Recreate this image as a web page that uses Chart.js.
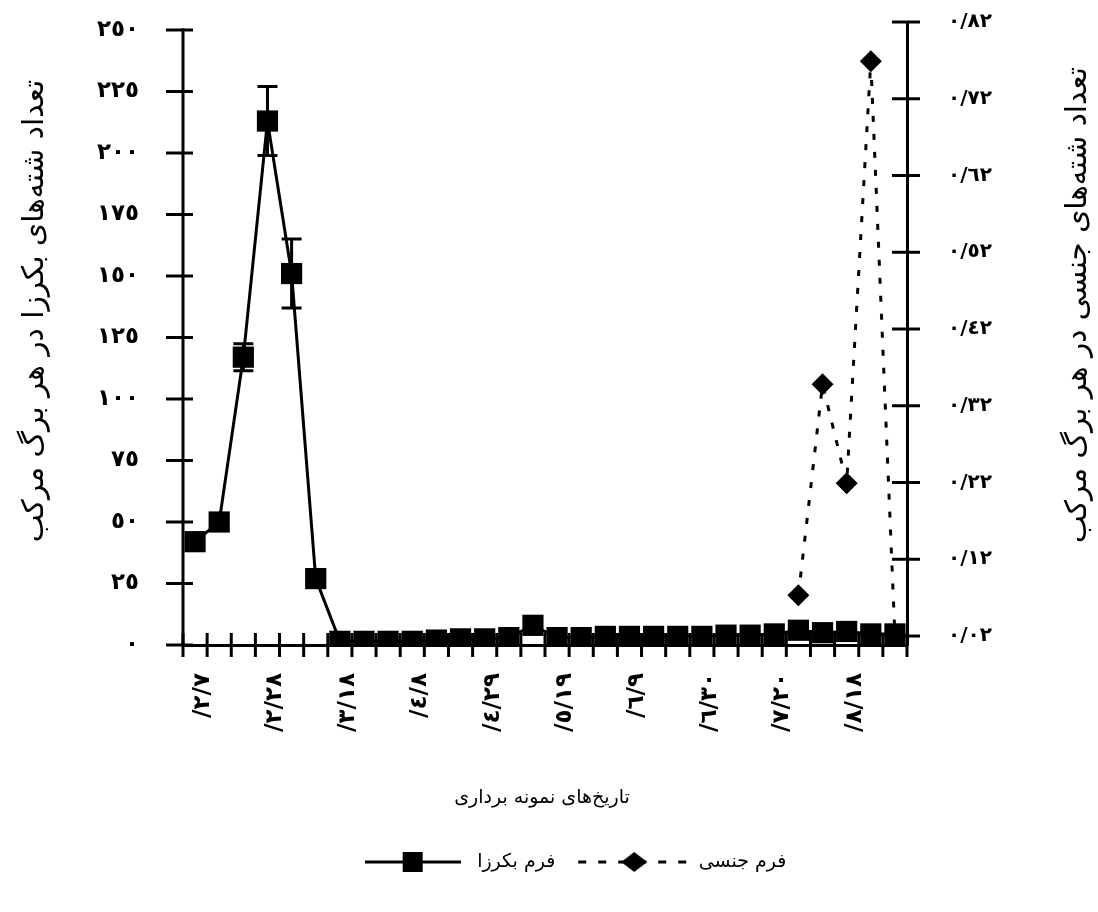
<!DOCTYPE html>
<html lang="fa" dir="ltr">
<head>
<meta charset="utf-8">
<script src="https://cdn.jsdelivr.net/npm/chart.js@4.4.1/dist/chart.umd.min.js"></script>
<style>
html,body{margin:0;padding:0;background:#fff;}
#wrap{width:1098px;height:912px;position:relative;}
</style>
</head>
<body>
<div id="wrap"><canvas id="c"></canvas></div>
<script>
// ---------- data ----------
const categories = ['/٢/٧','','','/٢/٢٨','','','/٣/١٨','','','/٤/٨','','','/٤/٢٩','','','/٥/١٩','','','/٦/٩','','','/٦/٣٠','','','/٧/٢٠','','','/٨/١٨','',''];
const parthenogenetic = [42,50,117,213,151,27,1.5,1.5,1.5,1.5,2,2.5,2.5,3,8,3,3,3.5,3.5,3.5,3.5,3.5,4,4,4.5,6,5,5.5,4.5,4.5];
const parthenoError   = [0,0,5.5,14,14,0,0,0,0,0,0,0,0,0,0,0,0,0,0,0,0,0,0,0,0,0,0,0,0,0];
const sexual = [null,null,null,null,null,null,null,null,null,null,null,null,null,null,null,null,null,null,null,null,null,null,null,null,null,0.073,0.348,0.219,0.769,0.02];
const leftTicks  = [0,25,50,75,100,125,150,175,200,225,250];
const rightTicks = [0.02,0.12,0.22,0.32,0.42,0.52,0.62,0.72,0.82];
const seriesNames = ['فرم بکرزا','فرم جنسی'];
const leftTitle  = 'تعداد شته‌های بکرزا در هر برگ مرکب';
const rightTitle = 'تعداد شته‌های جنسی در هر برگ مرکب';
const xTitle     = 'تاریخ‌های نمونه برداری';

// ---------- helpers ----------
const FONT = '"DejaVu Sans", sans-serif';
const toAr = s => String(s).replace(/\d/g, d => '٠١٢٣٤٥٦٧٨٩'[d]);
Chart.defaults.font.family = FONT;
Chart.defaults.color = '#000';

function makeMarker(w, dashed, kind) {
  const c = document.createElement('canvas');
  c.width = w; c.height = 24;
  const g = c.getContext('2d');
  g.strokeStyle = '#000'; g.fillStyle = '#000'; g.lineWidth = 3;
  if (dashed) g.setLineDash([8, 12]);
  g.beginPath(); g.moveTo(dashed ? 4 : 0, 12); g.lineTo(w, 12); g.stroke();
  g.setLineDash([]);
  if (kind === 'rect') {
    g.fillRect(w / 2 - 10, 2, 20, 20);
  } else {
    g.beginPath();
    g.moveTo(w / 2, 2); g.lineTo(w / 2 + 13, 12); g.lineTo(w / 2, 22); g.lineTo(w / 2 - 13, 12);
    g.closePath(); g.fill();
  }
  return c;
}
const legendMarkers = [makeMarker(96, false, 'rect'), makeMarker(120, true, 'diamond')];

function drawFitted(ctx, text, cx, cy, target, rotate) {
  ctx.save();
  ctx.font = '20px ' + FONT;
  const size = 20 * target / ctx.measureText(text).width;
  ctx.font = size.toFixed(1) + 'px ' + FONT;
  ctx.translate(cx, cy);
  if (rotate) ctx.rotate(-Math.PI / 2);
  ctx.fillText(text, 0, 0);
  ctx.restore();
}

const axisDecor = {
  id: 'axisDecor',
  beforeDatasetsDraw(chart) {
    const {ctx, chartArea} = chart;
    const xs = chart.scales.x, yl = chart.scales.yL, yr = chart.scales.yR;
    ctx.save();
    ctx.strokeStyle = '#000';
    ctx.lineWidth = 3;
    ctx.lineCap = 'butt';
    // left axis line
    ctx.beginPath();
    ctx.moveTo(chartArea.left, yl.getPixelForValue(0) + 1.5);
    ctx.lineTo(chartArea.left, yl.getPixelForValue(leftTicks[leftTicks.length - 1]) - 1.5);
    ctx.stroke();
    // left ticks (crossing)
    leftTicks.forEach(v => {
      const y = yl.getPixelForValue(v);
      ctx.beginPath(); ctx.moveTo(chartArea.left - 17, y); ctx.lineTo(chartArea.left + 10, y); ctx.stroke();
    });
    // right ticks (crossing)
    rightTicks.forEach(v => {
      const y = yr.getPixelForValue(v);
      ctx.beginPath(); ctx.moveTo(chartArea.right - 15, y); ctx.lineTo(chartArea.right + 13, y); ctx.stroke();
    });
    // x ticks at category boundaries
    for (let i = 0; i <= categories.length; i++) {
      const x = xs.getPixelForValue(i - 0.5);
      ctx.beginPath(); ctx.moveTo(x, chartArea.bottom - 12); ctx.lineTo(x, chartArea.bottom + 12); ctx.stroke();
    }
    // error bars
    parthenoError.forEach((e, i) => {
      if (!e) return;
      const x = xs.getPixelForValue(i);
      const y1 = yl.getPixelForValue(parthenogenetic[i] + e);
      const y2 = yl.getPixelForValue(parthenogenetic[i] - e);
      ctx.beginPath();
      ctx.moveTo(x, y1); ctx.lineTo(x, y2);
      ctx.moveTo(x - 10, y1); ctx.lineTo(x + 10, y1);
      ctx.moveTo(x - 10, y2); ctx.lineTo(x + 10, y2);
      ctx.stroke();
    });
    ctx.restore();
  },
  afterDraw(chart) {
    const {ctx} = chart;
    ctx.save();
    ctx.fillStyle = '#000';
    ctx.textAlign = 'center';
    ctx.textBaseline = 'middle';
    drawFitted(ctx, leftTitle, 35, 311, 463, true);
    drawFitted(ctx, rightTitle, 1078, 305, 476, true);
    ctx.font = '19px ' + FONT;
    ctx.fillText(xTitle, 542, 798);
    ctx.restore();
  }
};

new Chart(document.getElementById('c'), {
  type: 'line',
  data: {
    labels: categories,
    datasets: [
      {
        label: seriesNames[0],
        data: parthenogenetic,
        yAxisID: 'yL',
        borderColor: '#000',
        backgroundColor: '#000',
        borderWidth: 3,
        pointStyle: 'rect',
        pointRadius: 15,
        pointHoverRadius: 15,
        pointBackgroundColor: '#000',
        pointBorderColor: '#000',
        pointBorderWidth: 0,
        tension: 0
      },
      {
        label: seriesNames[1],
        data: sexual,
        yAxisID: 'yR',
        borderColor: '#000',
        backgroundColor: '#000',
        borderWidth: 3,
        borderDash: [6, 12],
        pointStyle: 'rectRot',
        pointRadius: 11,
        pointHoverRadius: 11,
        pointBackgroundColor: '#000',
        pointBorderColor: '#000',
        pointBorderWidth: 0,
        spanGaps: false,
        tension: 0
      }
    ]
  },
  options: {
    responsive: true,
    maintainAspectRatio: false,
    animation: false,
    events: [],
    layout: { padding: { left: 46, right: 0, top: 22, bottom: 30.5 } },
    plugins: {
      tooltip: { enabled: false },
      legend: {
        position: 'bottom',
        align: 'center',
        labels: {
          usePointStyle: true,
          pointStyleWidth: 110,
          padding: 24,
          color: '#000',
          font: { size: 19, family: FONT },
          generateLabels(chart) {
            const items = Chart.defaults.plugins.legend.labels.generateLabels(chart);
            items.forEach((it, i) => { it.pointStyle = legendMarkers[i]; it.rotation = 0; });
            return items;
          }
        }
      }
    },
    scales: {
      x: {
        type: 'category',
        offset: true,
        grid: { display: false, drawTicks: false, offset: true },
        border: { display: true, color: '#000', width: 3 },
        ticks: {
          autoSkip: false,
          maxRotation: 90,
          minRotation: 90,
          padding: 28,
          labelOffset: 8,
          color: '#000',
          font: { size: 23, weight: 'bold', family: FONT }
        },
        afterFit(scale) { scale.height = 183.5; }
      },
      yL: {
        type: 'linear',
        position: 'left',
        min: 0,
        max: 253.25,
        grid: { display: false, drawTicks: true, tickLength: 40 },
        border: { display: false },
        afterBuildTicks(scale) { scale.ticks = leftTicks.map(v => ({ value: v })); },
        ticks: {
          padding: 4,
          color: '#000',
          font: { size: 23, weight: 'bold', family: FONT },
          callback: v => toAr(v)
        },
        afterFit(scale) { scale.width = 137; }
      },
      yR: {
        type: 'linear',
        position: 'right',
        min: 0.0083,
        max: 0.82,
        grid: { display: false, drawTicks: true, tickLength: 38 },
        border: { display: true, color: '#000', width: 3 },
        afterBuildTicks(scale) { scale.ticks = rightTicks.map(v => ({ value: v })); },
        ticks: {
          padding: 3,
          color: '#000',
          font: { size: 20, weight: 'bold', family: FONT },
          callback: v => toAr(Number(v).toFixed(2)).replace('.', '/')
        },
        afterFit(scale) { scale.width = 191; }
      }
    }
  },
  plugins: [axisDecor]
});
</script>
</body>
</html>
